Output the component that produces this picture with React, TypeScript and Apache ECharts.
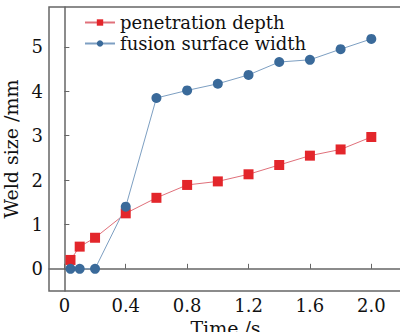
import React, { useEffect, useRef } from "react";
import * as echarts from "echarts";

const times = [0.04, 0.1, 0.2, 0.4, 0.6, 0.8, 1.0, 1.2, 1.4, 1.6, 1.8, 2.0];
const penetrationDepth = [0.2, 0.5, 0.7, 1.25, 1.6, 1.89, 1.97, 2.13, 2.34, 2.55, 2.69, 2.97];
const fusionWidth = [0, 0, 0, 1.4, 3.85, 4.02, 4.17, 4.37, 4.66, 4.71, 4.95, 5.18];
const xTicks = [0, 0.4, 0.8, 1.2, 1.6, 2.0];
const yTicks = [0, 1, 2, 3, 4, 5];

const FONT = "'DejaVu Serif', 'Liberation Serif', serif";

export default function App() {
  const ref = useRef<HTMLDivElement>(null);
  useEffect(() => {
    if (!ref.current) return;
    const chart = echarts.init(ref.current, undefined, { renderer: "svg" });
    chart.setOption({
      animation: false,
      grid: {
        left: 49,
        top: 7,
        right: -2,
        bottom: 41,
        containLabel: false,
        outerBoundsMode: "none",
        show: true,
        borderColor: "#666",
        borderWidth: 1.5,
        backgroundColor: "transparent",
      },
      legend: {
        left: 79,
        top: 7,
        orient: "vertical",
        itemGap: 0,
        itemWidth: 30,
        itemHeight: 8,
        textStyle: { fontFamily: FONT, fontSize: 18, lineHeight: 21, color: "#111" },
        data: ["penetration depth", "fusion surface width"],
      },
      xAxis: {
        type: "value",
        min: -0.1,
        max: 2.2,
        name: "Time /s",
        nameLocation: "middle",
        nameGap: 22,
        nameTextStyle: { fontFamily: FONT, fontSize: 19, color: "#111" },
        axisLine: { lineStyle: { color: "#666", width: 1.5 } },
        axisTick: { inside: true, length: 5, customValues: xTicks, lineStyle: { color: "#666" } },
        axisLabel: {
          customValues: xTicks,
          formatter: (v: number) => (v === 0 ? "0" : v.toFixed(1)),
          fontFamily: FONT,
          fontSize: 18,
          color: "#111",
          margin: 5,
        },
        splitLine: { show: false },
      },
      yAxis: {
        type: "value",
        min: -0.5,
        max: 5.9,
        name: "Weld size /mm",
        nameLocation: "middle",
        nameGap: 27,
        nameTextStyle: { fontFamily: FONT, fontSize: 19, color: "#111" },
        axisLine: { show: true, lineStyle: { color: "#666", width: 1.5 } },
        axisTick: { show: true, inside: true, length: 5, customValues: yTicks, lineStyle: { color: "#666" } },
        axisLabel: {
          customValues: yTicks,
          fontFamily: FONT,
          fontSize: 18,
          color: "#111",
          margin: 6,
        },
        splitLine: { show: false },
      },
      series: [
        {
          name: "penetration depth",
          type: "line",
          data: times.map((t, i) => [t, penetrationDepth[i]]),
          symbol: "rect",
          symbolSize: 10,
          itemStyle: { color: "#e3262b" },
          lineStyle: { color: "#e0707a", width: 1 },
        },
        {
          name: "fusion surface width",
          type: "line",
          data: times.map((t, i) => [t, fusionWidth[i]]),
          symbol: "circle",
          symbolSize: 10,
          itemStyle: { color: "#3a6a9a" },
          lineStyle: { color: "#7d9fc2", width: 1 },
        },
      ],
    });
    return () => chart.dispose();
  }, []);
  return <div ref={ref} style={{ width: 400, height: 332, position: "absolute", left: 0, top: 0, background: "#fff" }} />;
}
